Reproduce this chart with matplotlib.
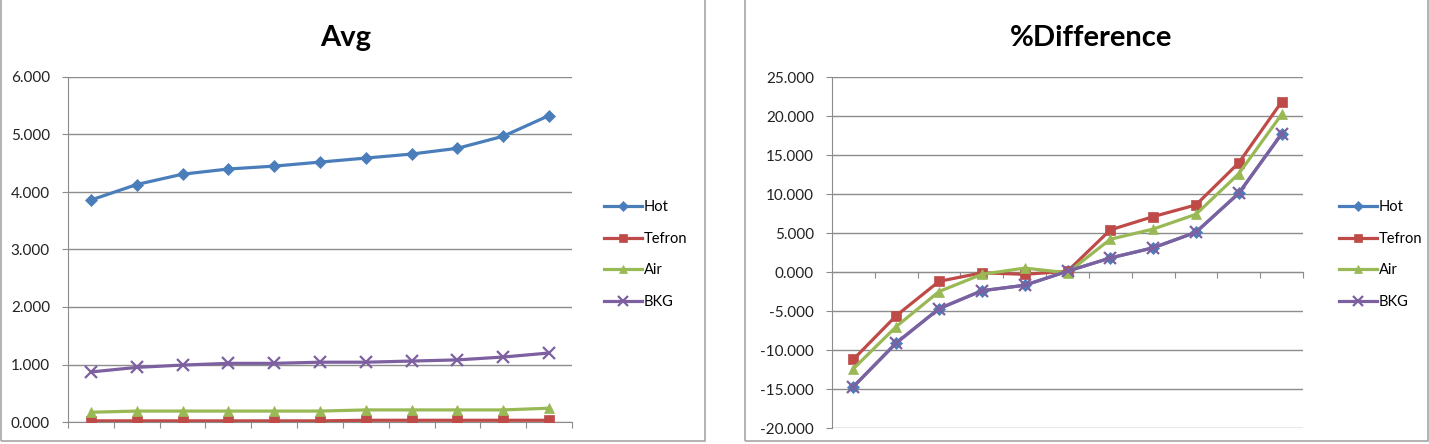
import matplotlib
matplotlib.use("Agg")
import matplotlib.pyplot as plt
from matplotlib.patches import Rectangle
import numpy as np

# ---------------------------------------------------
# Datos
# ---------------------------------------------------
series = ["Hot", "Tefron", "Air", "BKG"]

avg_hot = [3.86, 4.13, 4.31, 4.40, 4.45, 4.52, 4.59, 4.66, 4.76, 4.97, 5.33]
avg_tefron = [0.02, 0.02, 0.02, 0.02, 0.02, 0.02, 0.03, 0.03, 0.03, 0.03, 0.03]
avg_air = [0.17, 0.19, 0.19, 0.19, 0.19, 0.19, 0.21, 0.21, 0.21, 0.21, 0.24]
avg_bkg = [0.87, 0.95, 0.99, 1.02, 1.02, 1.04, 1.04, 1.06, 1.08, 1.13, 1.20]

diff_hot = [-14.7, -9.1, -4.7, -2.4, -1.7, 0.1, 1.8, 3.1, 5.1, 10.1, 17.7]
diff_tefron = [-11.2, -5.6, -1.2, -0.1, -0.3, 0.1, 5.4, 7.1, 8.6, 14.0, 21.8]
diff_air = [-12.4, -7.0, -2.5, -0.3, 0.5, -0.1, 4.2, 5.5, 7.4, 12.6, 20.2]
diff_bkg = [-14.7, -9.1, -4.7, -2.4, -1.7, 0.1, 1.8, 3.1, 5.1, 10.1, 17.7]

avg_ticks = [0, 1, 2, 3, 4, 5, 6]
diff_ticks = [-20, -15, -10, -5, 0, 5, 10, 15, 20, 25]

colores = ["#4A7EBB", "#BE4B48", "#98B954", "#7D60A0"]
marcadores = ["D", "s", "^", "x"]
tam_marc = [6, 7, 7, 9]

FUENTE = "Lato"
GRIS = "#8C8C8C"


def graficar(ax, datos, ticks, titulo, leg_x, fig, axis_at_zero=False):
    x = np.arange(len(datos[0]))
    for vals, nombre, c, m, ms in zip(datos, series, colores, marcadores, tam_marc):
        ax.plot(x, vals, color=c, lw=2.3, marker=m, ms=ms, mew=1.6 if m == "x" else 0.5,
                mec=c, label=nombre, zorder=3)

    ax.set_xlim(-0.5, len(x) - 0.5)
    ax.set_ylim(ticks[0], ticks[-1])
    ax.set_yticks(ticks)
    ax.set_yticklabels([f"{t:.3f}" for t in ticks], family=FUENTE, fontsize=11, color="#222222")
    ax.set_xticks(np.arange(len(x) + 1) - 0.5)
    ax.set_xticklabels([])
    ax.tick_params(axis="y", length=4, color=GRIS, pad=9)
    ax.tick_params(axis="x", length=4, color=GRIS, direction="out")
    ax.yaxis.grid(True, color=GRIS, lw=1.0)
    ax.set_axisbelow(True)
    for lado in ["top", "right"]:
        ax.spines[lado].set_visible(False)
    ax.spines["left"].set_color(GRIS)
    ax.spines["bottom"].set_color(GRIS)
    if axis_at_zero:
        ax.spines["bottom"].set_position(("data", 0))

    fig.text(ax.get_position().x0 + ax.get_position().width * 0.55, 1 - 38 / 444, titulo,
             family=FUENTE, fontsize=21, fontweight="bold", ha="center", va="center")

    ax.legend(loc="upper left", bbox_to_anchor=(leg_x, 1 - 193 / 444),
              bbox_transform=fig.transFigure, frameon=False, borderpad=0,
              handlelength=2.6, handletextpad=0.1, labelspacing=1.2,
              markerscale=0.8, prop={"family": FUENTE, "size": 10.5})


fig = plt.figure(figsize=(14.29, 4.44), dpi=100)

# marcos de cada gráfico
fig.patches.append(Rectangle((1 / 1429, 3 / 444), 704 / 1429, 445 / 444, transform=fig.transFigure,
                             fill=False, ec="#A6A6A6", lw=1.2))
fig.patches.append(Rectangle((745 / 1429, 3 / 444), 683 / 1429, 445 / 444, transform=fig.transFigure,
                             fill=False, ec="#A6A6A6", lw=1.2))

ax1 = fig.add_axes([68 / 1429, 1 - 422 / 444, 504 / 1429, 345 / 444])
graficar(ax1, [avg_hot, avg_tefron, avg_air, avg_bkg], avg_ticks, "Avg", 597 / 1429, fig)

ax2 = fig.add_axes([832 / 1429, 1 - 428 / 444, 471 / 1429, 351 / 444])
graficar(ax2, [diff_hot, diff_tefron, diff_air, diff_bkg], diff_ticks, "%Difference",
         1332 / 1429, fig, axis_at_zero=True)

fig.savefig("out.png", dpi=100)
